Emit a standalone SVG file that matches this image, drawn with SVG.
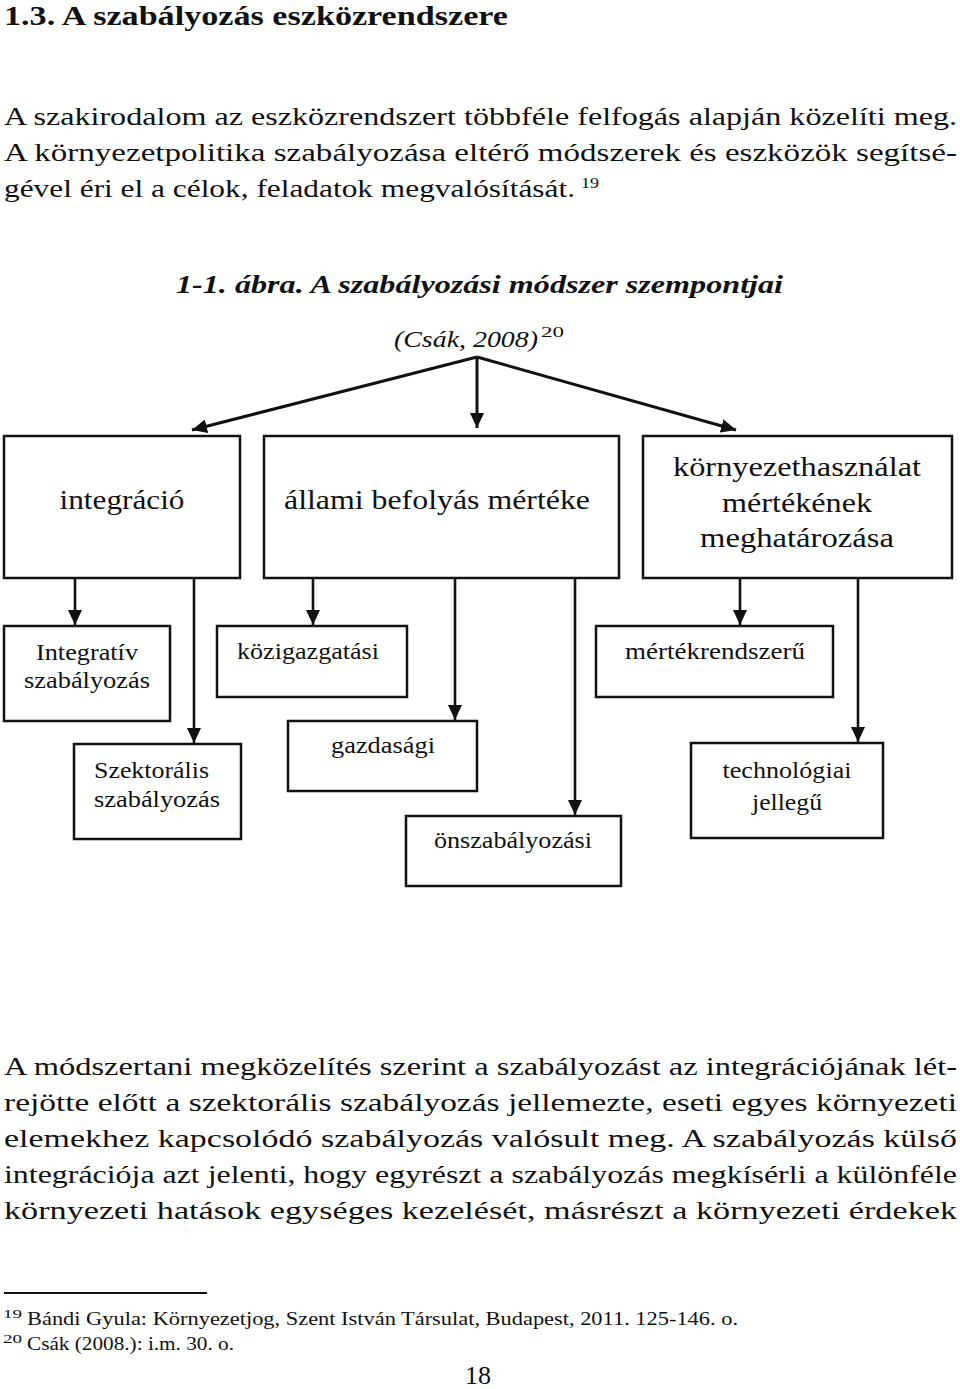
<svg xmlns="http://www.w3.org/2000/svg" width="960" height="1389" viewBox="0 0 960 1389">
<defs>
<style>
text{font-family:"Liberation Serif","DejaVu Serif",serif;fill:#111}
.h{font-weight:bold;font-size:27px}
.b{font-size:26px}
.t{font-weight:bold;font-style:italic;font-size:25px}
.it{font-style:italic;font-size:24px}
.sup{font-size:15px}
.tl{font-size:27px;text-anchor:middle}
.ll{font-size:24px;text-anchor:middle}
.fn{font-size:18px}
.box{fill:#fff;stroke:#111;stroke-width:2.5}
.c{stroke:#111;stroke-width:2.6;fill:none;marker-end:url(#ah)}
.r{stroke:#111;stroke-width:3;fill:none;marker-end:url(#ah)}
</style>
<marker id="ah" markerUnits="userSpaceOnUse" markerWidth="15" markerHeight="14" viewBox="0 0 15 14" refX="15" refY="7" orient="auto">
<path d="M0,0 L15,7 L0,14 z" fill="#111"/>
</marker>
</defs>
<rect width="960" height="1389" fill="#fff"/>

<g id="heading">
<text class="h" x="4" y="25" textLength="504" lengthAdjust="spacingAndGlyphs">1.3. A szabályozás eszközrendszere</text>
</g>

<g id="intro">
<text class="b" x="4" y="125" textLength="953" lengthAdjust="spacingAndGlyphs">A szakirodalom az eszközrendszert többféle felfogás alapján közelíti meg.</text>
<text class="b" x="4" y="161" textLength="953" lengthAdjust="spacingAndGlyphs">A környezetpolitika szabályozása eltérő módszerek és eszközök segítsé-</text>
<text class="b" x="4" y="197" textLength="571" lengthAdjust="spacingAndGlyphs">gével éri el a célok, feladatok megvalósítását.</text>
<text class="sup" x="581" y="188" textLength="18" lengthAdjust="spacingAndGlyphs">19</text>
</g>

<g id="title">
<text class="t" x="176" y="293" textLength="607" lengthAdjust="spacingAndGlyphs">1-1. ábra. A szabályozási módszer szempontjai</text>
<text class="it" x="394" y="347" textLength="144" lengthAdjust="spacingAndGlyphs">(Csák, 2008)</text>
<text class="sup" x="541" y="337" textLength="23" lengthAdjust="spacingAndGlyphs">20</text>
</g>

<g id="connectors">
<path d="M477,357 L192,430" class="r"/>
<path d="M477,357 L477,428" class="r"/>
<path d="M477,357 L736,430" class="r"/>
<path d="M75,579 L75,625" class="c"/>
<path d="M194,579 L194,743" class="c"/>
<path d="M313,579 L313,625" class="c"/>
<path d="M455,579 L455,720" class="c"/>
<path d="M575,579 L575,815" class="c"/>
<path d="M740,579 L740,625" class="c"/>
<path d="M858,579 L858,742" class="c"/>
</g>

<g id="n-integracio">
<rect class="box" x="4" y="436" width="236" height="142"/>
<text class="tl" x="122" y="509" textLength="125" lengthAdjust="spacingAndGlyphs">integráció</text>
</g>
<g id="n-allami">
<rect class="box" x="264" y="436" width="355" height="142"/>
<text class="tl" x="437" y="509" textLength="306" lengthAdjust="spacingAndGlyphs">állami befolyás mértéke</text>
</g>
<g id="n-kornyezet">
<rect class="box" x="643" y="436" width="309" height="142"/>
<text class="tl" x="797" y="476" textLength="248" lengthAdjust="spacingAndGlyphs">környezethasználat</text>
<text class="tl" x="797" y="512" textLength="150" lengthAdjust="spacingAndGlyphs">mértékének</text>
<text class="tl" x="797" y="547" textLength="194" lengthAdjust="spacingAndGlyphs">meghatározása</text>
</g>

<g id="n-integrativ">
<rect class="box" x="4" y="626" width="166" height="95"/>
<text class="ll" x="87" y="660" textLength="102" lengthAdjust="spacingAndGlyphs">Integratív</text>
<text class="ll" x="87" y="688" textLength="126" lengthAdjust="spacingAndGlyphs">szabályozás</text>
</g>
<g id="n-szektoralis">
<rect class="box" x="74" y="744" width="167" height="95"/>
<text class="ll" style="text-anchor:start" x="94" y="778" textLength="115" lengthAdjust="spacingAndGlyphs">Szektorális</text>
<text class="ll" style="text-anchor:start" x="94" y="807" textLength="126" lengthAdjust="spacingAndGlyphs">szabályozás</text>
</g>
<g id="n-kozigazgatasi">
<rect class="box" x="217" y="626" width="190" height="71"/>
<text class="ll" x="308" y="659" textLength="142" lengthAdjust="spacingAndGlyphs">közigazgatási</text>
</g>
<g id="n-gazdasagi">
<rect class="box" x="288" y="721" width="189" height="70"/>
<text class="ll" x="383" y="753" textLength="104" lengthAdjust="spacingAndGlyphs">gazdasági</text>
</g>
<g id="n-onszabalyozasi">
<rect class="box" x="406" y="816" width="215" height="70"/>
<text class="ll" x="513" y="848" textLength="158" lengthAdjust="spacingAndGlyphs">önszabályozási</text>
</g>
<g id="n-mertekrendszeru">
<rect class="box" x="596" y="626" width="237" height="71"/>
<text class="ll" x="715" y="659" textLength="180" lengthAdjust="spacingAndGlyphs">mértékrendszerű</text>
</g>
<g id="n-technologiai">
<rect class="box" x="691" y="743" width="192" height="95"/>
<text class="ll" x="787" y="778" textLength="129" lengthAdjust="spacingAndGlyphs">technológiai</text>
<text class="ll" x="787" y="810" textLength="70" lengthAdjust="spacingAndGlyphs">jellegű</text>
</g>

<g id="body">
<text class="b" x="4" y="1075" textLength="953" lengthAdjust="spacingAndGlyphs">A módszertani megközelítés szerint a szabályozást az integrációjának lét-</text>
<text class="b" x="4" y="1111" textLength="953" lengthAdjust="spacingAndGlyphs">rejötte előtt a szektorális szabályozás jellemezte, eseti egyes környezeti</text>
<text class="b" x="4" y="1147" textLength="953" lengthAdjust="spacingAndGlyphs">elemekhez kapcsolódó szabályozás valósult meg. A szabályozás külső</text>
<text class="b" x="4" y="1183" textLength="953" lengthAdjust="spacingAndGlyphs">integrációja azt jelenti, hogy egyrészt a szabályozás megkísérli a különféle</text>
<text class="b" x="4" y="1219" textLength="953" lengthAdjust="spacingAndGlyphs">környezeti hatások egységes kezelését, másrészt a környezeti érdekek</text>
</g>

<g id="footnotes">
<line x1="4" y1="1293" x2="207" y2="1293" stroke="#111" stroke-width="2"/>
<text class="sup" style="font-size:12px" x="3" y="1318" textLength="19" lengthAdjust="spacingAndGlyphs">19</text>
<text class="fn" x="27" y="1325" textLength="711" lengthAdjust="spacingAndGlyphs">Bándi Gyula: Környezetjog, Szent István Társulat, Budapest, 2011. 125-146. o.</text>
<text class="sup" style="font-size:12px" x="3" y="1343" textLength="19" lengthAdjust="spacingAndGlyphs">20</text>
<text class="fn" x="27" y="1350" textLength="207" lengthAdjust="spacingAndGlyphs">Csák (2008.): i.m. 30. o.</text>
<text style="font-size:26px;text-anchor:middle" x="478" y="1384">18</text>
</g>
</svg>
